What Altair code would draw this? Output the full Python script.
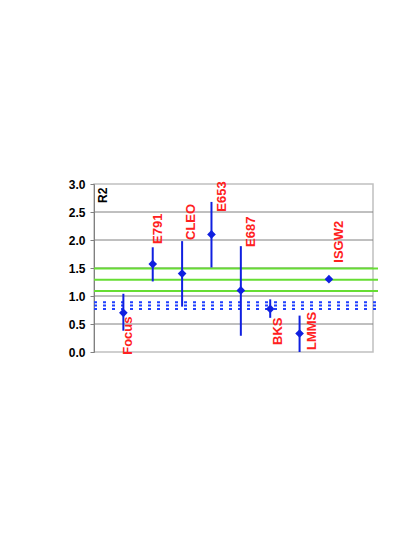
import altair as alt
import pandas as pd

# Measurements
names = ["Focus", "E791", "CLEO", "E653", "E687", "BKS", "LMMS", "ISGW2"]
xpos = [1, 2, 3, 4, 5, 6, 7, 8]
r2 = [0.70, 1.57, 1.40, 2.10, 1.10, 0.77, 0.33, 1.30]
err_lo = [0.38, 1.26, 0.81, 1.51, 0.29, 0.61, 0.00]
err_hi = [1.04, 1.87, 1.98, 2.68, 1.89, 0.94, 0.65]
label_x = [1.15, 2.17, 3.29, 4.35, 5.34, 6.26, 7.41, 8.35]
label_y = [-0.05, 1.93, 2.00, 2.505, 1.875, 0.125, 0.036, 1.595]

green_levels = [1.49, 1.29, 1.09]
blue_levels = [0.89, 0.83, 0.77]
grid_levels = [0.5, 1.0, 1.5, 2.0, 2.5]
y_ticks = [0.0, 0.5, 1.0, 1.5, 2.0, 2.5, 3.0]

FONT = "Arial, Liberation Sans"
BLUE = "#1020e0"
RED = "#ff2020"

df = pd.DataFrame({"name": names, "x": xpos, "r2": r2, "lx": label_x, "ly": label_y})
df_err = pd.DataFrame({"x": xpos[:7], "lo": err_lo, "hi": err_hi})

xs = alt.Scale(domain=[0, 9.5], nice=False, zero=False)
ys = alt.Scale(domain=[0, 3], nice=False)
yaxis = alt.Axis(values=y_ticks, format=".1f", title=None, grid=False,
                 labelFont=FONT, labelFontSize=12, labelFontWeight="bold",
                 labelColor="black", domainColor="#808080", tickColor="#808080",
                 tickSize=4, labelPadding=5)

grid = alt.Chart(pd.DataFrame({"y": grid_levels, "x0": 0.0, "x1": 9.5})).mark_rule(
    color="#808080", strokeWidth=1).encode(
    x=alt.X("x0:Q", scale=xs, axis=None), x2="x1:Q",
    y=alt.Y("y:Q", scale=ys, axis=yaxis)
)

green = alt.Chart(pd.DataFrame({"y": green_levels, "x0": 0.0, "x1": 9.67})).mark_rule(
    color="#66dd33", strokeWidth=2).encode(
    x=alt.X("x0:Q", scale=xs, axis=None), x2="x1:Q", y=alt.Y("y:Q", scale=ys, axis=yaxis)
)

blue = alt.Chart(pd.DataFrame({"y": blue_levels, "x0": 0.0, "x1": 9.67})).mark_rule(
    color="#2040ff", strokeWidth=2, strokeDash=[3, 6]).encode(
    x=alt.X("x0:Q", scale=xs, axis=None), x2="x1:Q", y=alt.Y("y:Q", scale=ys, axis=yaxis)
)

bars = alt.Chart(df_err).mark_rule(color=BLUE, strokeWidth=2).encode(
    x=alt.X("x:Q", scale=xs, axis=None), y=alt.Y("lo:Q", scale=ys, axis=yaxis), y2="hi:Q"
)

pts = alt.Chart(df).mark_point(shape="diamond", filled=True, size=75, color=BLUE, opacity=1).encode(
    x=alt.X("x:Q", scale=xs, axis=None), y=alt.Y("r2:Q", scale=ys, axis=yaxis)
)

labels = alt.Chart(df).mark_text(angle=270, align="left", baseline="middle", color=RED,
                                 font=FONT, fontSize=13, fontWeight="bold").encode(
    x=alt.X("lx:Q", scale=xs, axis=None), y=alt.Y("ly:Q", scale=ys, axis=yaxis), text="name:N"
)

r2lab = alt.Chart(pd.DataFrame({"t": ["R2"], "x": [0.31], "y": [2.66]})).mark_text(
    angle=270, align="left", baseline="middle", color="black",
    font=FONT, fontSize=12, fontWeight="bold").encode(
    x=alt.X("x:Q", scale=xs, axis=None), y=alt.Y("y:Q", scale=ys, axis=yaxis), text="t:N"
)

chart = alt.layer(grid, green, blue, bars, pts, labels, r2lab).properties(
    width=279, height=168, autosize="none",
    padding={"left": 86, "top": 176, "right": 30, "bottom": 180}
).configure_view(stroke="#c0c0c0", strokeWidth=1.5)

chart.save("out.html", embed_options={"renderer": "svg", "actions": False})
